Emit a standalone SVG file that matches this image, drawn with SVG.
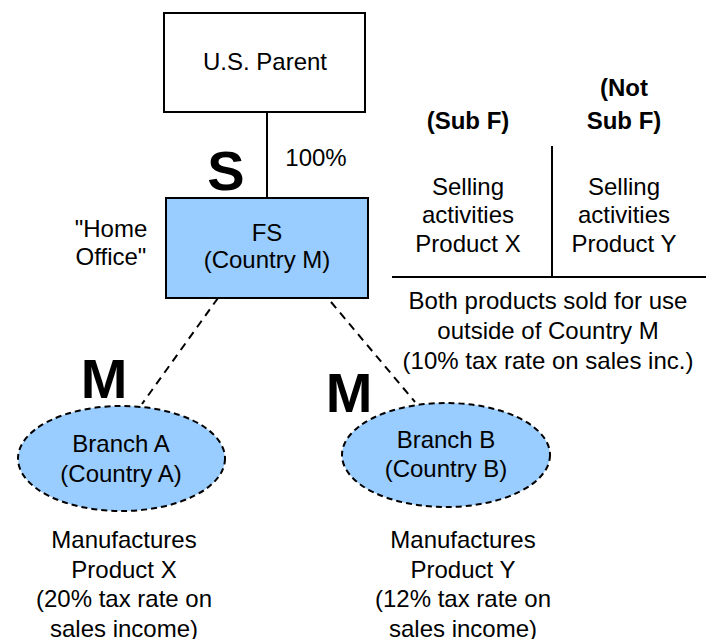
<svg xmlns="http://www.w3.org/2000/svg" width="706" height="639" viewBox="0 0 706 639">
<style>
text{font-family:"Liberation Sans",Arial,sans-serif;font-size:24px;fill:#000;text-anchor:middle}
.b{font-weight:bold}
.big{font-weight:bold;font-size:56px}
.box{stroke:#000;stroke-width:2}
.dash{stroke:#000;stroke-width:2;stroke-dasharray:8 6;fill:none}
.ell{fill:#99ccff;stroke:#000;stroke-width:2;stroke-dasharray:6 4}
.ln{stroke:#000;stroke-width:2;fill:none}
</style>
<rect width="706" height="639" fill="#fff"/>
<g id="connectors">
<line class="ln" x1="267" y1="112" x2="267" y2="198"/>
<line class="dash" x1="218" y1="298" x2="142" y2="404"/>
<line class="dash" x1="331" y1="302" x2="415" y2="402"/>
</g>
<g id="us-parent">
<rect class="box" x="164" y="13" width="201" height="99" fill="#fff"/>
<text x="265" y="70">U.S. Parent</text>
</g>
<g id="fs">
<rect class="box" x="166" y="198" width="202" height="100" fill="#99ccff"/>
<text x="267" y="241">FS</text>
<text x="267" y="268">(Country M)</text>
</g>
<g id="branch-a">
<ellipse class="ell" cx="121.5" cy="458.5" rx="103.5" ry="52.5"/>
<text x="121" y="452">Branch A</text>
<text x="121" y="482">(Country A)</text>
</g>
<g id="branch-b">
<ellipse class="ell" cx="446" cy="455" rx="104" ry="52"/>
<text x="446" y="448">Branch B</text>
<text x="446" y="477">(Country B)</text>
</g>
<g id="labels">
<text class="big" x="226" y="190">S</text>
<text x="316" y="166">100%</text>
<text x="111" y="237">"Home</text>
<text x="111" y="265">Office"</text>
<text class="big" x="104" y="398">M</text>
<text class="big" x="349" y="412">M</text>
</g>
<g id="table">
<line class="ln" x1="552" y1="146" x2="552" y2="276"/>
<line class="ln" x1="392" y1="277" x2="706" y2="277"/>
<text class="b" x="468" y="129">(Sub F)</text>
<text class="b" x="624" y="96">(Not</text>
<text class="b" x="624" y="129">Sub F)</text>
<text x="468" y="195">Selling</text>
<text x="468" y="223">activities</text>
<text x="468" y="252">Product X</text>
<text x="624" y="195">Selling</text>
<text x="624" y="223">activities</text>
<text x="624" y="252">Product Y</text>
<text x="548" y="309">Both products sold for use</text>
<text x="548" y="339">outside of Country M</text>
<text x="548" y="369">(10% tax rate on sales inc.)</text>
</g>
<g id="notes">
<text x="124" y="548">Manufactures</text>
<text x="124" y="578">Product X</text>
<text x="124" y="607">(20% tax rate on</text>
<text x="124" y="637">sales income)</text>
<text x="463" y="548">Manufactures</text>
<text x="463" y="578">Product Y</text>
<text x="463" y="607">(12% tax rate on</text>
<text x="463" y="637">sales income)</text>
</g>
</svg>
